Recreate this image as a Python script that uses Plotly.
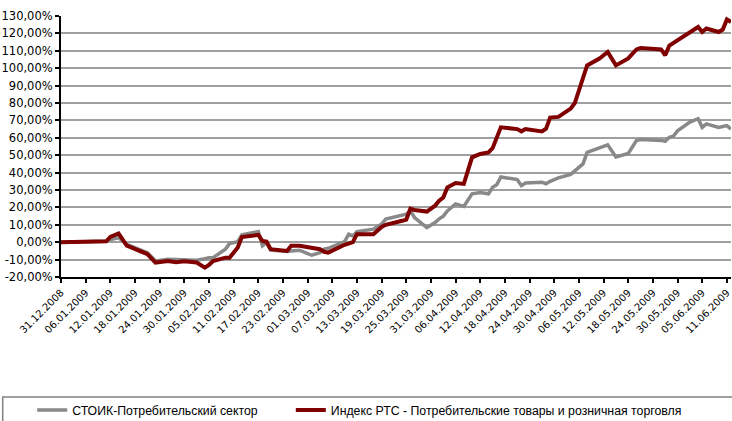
import plotly.graph_objects as go

dates = ["2008-12-31", "2009-01-11", "2009-01-12", "2009-01-14", "2009-01-16", "2009-01-19",
         "2009-01-21", "2009-01-23", "2009-01-26", "2009-01-28", "2009-01-30", "2009-02-02",
         "2009-02-04", "2009-02-05", "2009-02-06", "2009-02-09", "2009-02-10", "2009-02-12",
         "2009-02-13", "2009-02-17", "2009-02-18", "2009-02-19", "2009-02-20", "2009-02-24",
         "2009-02-25", "2009-02-27", "2009-03-02", "2009-03-04", "2009-03-05", "2009-03-06",
         "2009-03-10", "2009-03-11", "2009-03-12", "2009-03-13", "2009-03-17", "2009-03-19",
         "2009-03-20", "2009-03-24", "2009-03-25", "2009-03-26", "2009-03-27", "2009-03-30",
         "2009-04-01", "2009-04-02", "2009-04-03", "2009-04-04", "2009-04-06", "2009-04-08",
         "2009-04-10", "2009-04-12", "2009-04-14", "2009-04-15", "2009-04-16", "2009-04-17",
         "2009-04-21", "2009-04-22", "2009-04-23", "2009-04-27", "2009-04-28", "2009-04-29",
         "2009-05-01", "2009-05-04", "2009-05-05", "2009-05-07", "2009-05-08", "2009-05-11",
         "2009-05-13", "2009-05-15", "2009-05-18", "2009-05-20", "2009-05-21", "2009-05-26",
         "2009-05-27", "2009-05-28", "2009-05-29", "2009-05-30", "2009-06-02", "2009-06-04",
         "2009-06-05", "2009-06-06", "2009-06-09", "2009-06-10", "2009-06-11", "2009-06-12"]

# СТОИК-Потребительский сектор, %
stoik = [0, 0.5, 1.5, 2.6, -1.2, -4.0,
         -6.0, -10.8, -9.8, -10.0, -10.0, -10.4,
         -9.5, -8.9, -8.9, -4.0, -0.8, 0.3,
         4.2, 6.1, -2.1, -0.2, -4.6, -5.4,
         -5.0, -4.6, -7.5, -6.0, -4.0, -3.5,
         0.3, 4.6, 3.6, 6.0, 7.5, 10.4,
         13.3, 15.7, 16.1, 18.0, 14.2, 8.4,
         11.3, 13.4, 15.0, 18.0, 22.0, 20.5,
         27.8, 28.5, 27.8, 31.5, 33.0, 37.5,
         36.0, 32.5, 34.0, 34.5, 33.6, 35.0,
         37.0, 39.0, 41.0, 45.0, 51.6, 54.0,
         56.0, 49.0, 51.0, 58.4, 59.0, 58.5,
         58.0, 60.3, 61.0, 64.0, 69.0, 71.0,
         66.0, 68.0, 66.0, 66.5, 67.0, 65.0]

# Индекс РТС - Потребительские товары и розничная торговля, %
rts = [0, 0.5, 3.0, 5.0, -2.0, -5.0,
       -6.8, -11.7, -10.8, -11.5, -11.0, -11.7,
       -14.6, -13.0, -10.8, -8.9, -8.9, -3.1,
       3.0, 4.2, 0.7, 0.3, -4.0, -5.0,
       -2.1, -2.1, -3.5, -4.0, -5.5, -6.0,
       -1.5, -1.0, 0.0, 4.6, 4.6, 8.8,
       10.0, 12.3, 13.0, 19.2, 18.5, 17.6,
       21.0, 23.8, 25.7, 31.5, 34.0, 33.5,
       48.8, 50.7, 51.6, 54.0, 59.5, 66.0,
       65.0, 63.7, 65.0, 63.7, 65.3, 71.6,
       72.0, 76.8, 80.0, 94.0, 101.6, 105.6,
       109.3, 101.6, 105.6, 110.8, 111.6, 110.8,
       107.4, 113.0, 114.5, 116.5, 120.8, 123.7,
       120.8, 122.8, 120.8, 122.2, 128.0, 126.6]

y_ticks = list(range(-20, 131, 10))
y_labels = [f"{v},00%" for v in y_ticks]

fig = go.Figure()
fig.add_trace(go.Scatter(x=dates, y=stoik, mode='lines', name='СТОИК-Потребительский сектор',
                         line=dict(color='#898989', width=3.5), legend='legend'))
fig.add_trace(go.Scatter(x=dates, y=rts, mode='lines',
                         name='Индекс РТС - Потребительские товары и розничная торговля',
                         line=dict(color='#800000', width=4), legend='legend2'))

leg_font = dict(family='Liberation Sans', size=12.3)
fig.update_layout(
    width=732, height=421,
    margin=dict(l=61, r=1, t=16, b=144, autoexpand=False),
    paper_bgcolor='white', plot_bgcolor='white',
    font=dict(family='DejaVu Sans', size=10, color='black'),
    showlegend=True,
    legend=dict(orientation='h', x=-0.043, y=-0.51, xanchor='left', yanchor='middle',
                font=leg_font, bgcolor='rgba(0,0,0,0)', itemwidth=30),
    legend2=dict(orientation='h', x=0.343, y=-0.51, xanchor='left', yanchor='middle',
                 font=leg_font, bgcolor='rgba(0,0,0,0)', itemwidth=30),
    shapes=[dict(type='rect', xref='paper', yref='paper', x0=-0.087, x1=1.2, y0=-0.46, y1=-0.7,
                 line=dict(color='#808080', width=1.5), fillcolor='rgba(0,0,0,0)')],
)

fig.update_xaxes(
    type='date', range=['2008-12-31', '2009-06-12'], automargin=False,
    tick0='2008-12-31', dtick=6 * 86400000, tickformat='%d.%m.%Y', tickangle=-45,
    showgrid=False, showline=True, linecolor='black', linewidth=2,
    ticks='outside', ticklen=4, tickcolor='black', tickwidth=1.5,
    tickfont=dict(size=10),
)
fig.update_yaxes(
    range=[-20, 130], tickvals=y_ticks, ticktext=y_labels, automargin=False,
    showgrid=True, gridcolor='#a0a0a0', gridwidth=1.5, zeroline=False,
    showline=True, linecolor='black', linewidth=2,
    ticks='outside', ticklen=4, tickcolor='black', tickwidth=1.5,
    tickfont=dict(size=11.5),
)

# the page has a default 8px body margin, drop it so the chart fills the window
fig.write_html("out.html", config={'displayModeBar': False},
               post_script="document.body.style.margin='0';")
